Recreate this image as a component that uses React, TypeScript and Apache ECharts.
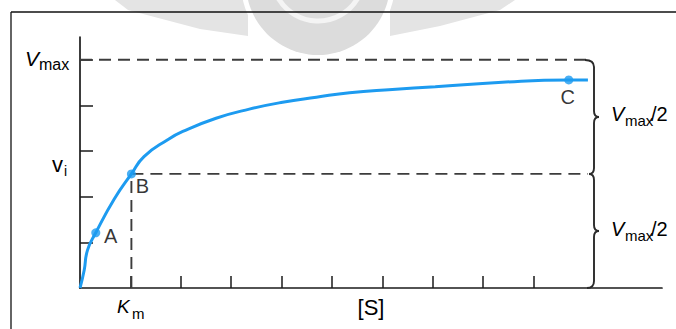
import React, { useEffect, useRef } from "react";
import * as echarts from "echarts";

// ---- data ----
const substrate = [0, 0.083, 0.149, 0.313, 0.68, 1.02, 1.27, 1.74, 2.04, 2.7, 3.36, 4.02, 4.69, 5.35, 6.2, 7.05, 8.38, 9.7, 10.08];
const velocity = [0, 0.39, 0.83, 1.21, 1.95, 2.5, 2.88, 3.25, 3.43, 3.72, 3.92, 4.07, 4.18, 4.28, 4.35, 4.41, 4.51, 4.56, 4.56];
const pointNames = ["A", "B", "C"];
const pointS = [0.313, 1.02, 9.7];
const pointV = [1.21, 2.5, 4.56];
const vmax = 5;
const halfVmax = 2.5;
const km = 1.02;
const dashEndS = 10.08;
const xTicks = [1, 2, 3, 4, 5, 6, 7, 8, 9];
const yTicks = [1, 2, 3, 4, 5];
const vmaxLabel = ["V", "max"];
const viLabel = ["v", "i"];
const kmLabel = ["K", "m"];
const sLabel = "[S]";
const halfLabel = ["V", "max", "/2"];

const FONT = '"Liberation Sans", Arial, Helvetica, sans-serif';
const BLUE = "#1d9bf0";
const DASH = "#3c3c3c";

const braceD =
  "M585 60 Q594 60 594 67 L594 111 Q594 117 599 117 Q594 117 594 123 L594 168 Q594 174 589 174 Q594 174 594 180 L594 225 Q594 231 599 231 Q594 231 594 237 L594 281 Q594 288 587 288";
echarts.graphic.registerShape("brace", echarts.graphic.extendPath(braceD, {}));

const txt = (text: string, x: number, y: number, size: number, italic = false, align = "left") => ({
  type: "text",
  x,
  y,
  z: 10,
  style: {
    text,
    fill: "#000",
    font: `${italic ? "italic " : ""}${size}px ${FONT}`,
    align,
    verticalAlign: "middle",
  },
});

const labelOffsets = [
  [15, 3],
  [11, 12],
  [-1, 17],
];

const buildOption = () => ({
  animation: false,
  backgroundColor: "#ffffff",
  grid: { left: 80, top: 37, right: 14, bottom: 41, containLabel: false },
  xAxis: {
    type: "value",
    min: 0,
    max: 11.55,
    axisLine: { lineStyle: { color: "#1a1a1a", width: 1.7 } },
    axisTick: { show: true, inside: true, length: 12, customValues: xTicks, lineStyle: { color: "#1a1a1a", width: 1.5 } },
    axisLabel: { show: false },
    splitLine: { show: false },
  },
  yAxis: {
    type: "value",
    min: 0,
    max: 5.5,
    interval: 1,
    axisLine: { show: true, lineStyle: { color: "#1a1a1a", width: 1.7 } },
    axisTick: { show: true, inside: true, length: 13, customValues: yTicks, lineStyle: { color: "#1a1a1a", width: 1.5 } },
    axisLabel: { show: false },
    splitLine: { show: false },
  },
  series: [
    {
      type: "line",
      data: [[0, vmax], [dashEndS, vmax]],
      symbol: "none",
      z: 2,
      lineStyle: { color: DASH, width: 1.9, type: [12, 7] },
    },
    {
      type: "line",
      data: [[km, halfVmax], [dashEndS, halfVmax]],
      symbol: "none",
      z: 2,
      lineStyle: { color: DASH, width: 1.9, type: [12, 7] },
    },
    {
      type: "line",
      data: [[km, 0], [km, halfVmax]],
      symbol: "none",
      z: 2,
      lineStyle: { color: DASH, width: 1.9, type: [12, 7] },
    },
    {
      type: "line",
      data: substrate.map((s, i) => [s, velocity[i]]),
      symbol: "none",
      smooth: true,
      z: 3,
      lineStyle: { color: BLUE, width: 3 },
    },
    {
      type: "scatter",
      z: 4,
      symbolSize: 9,
      itemStyle: { color: BLUE },
      data: pointNames.map((n, i) => ({
        name: n,
        value: [pointS[i], pointV[i]],
        label: { offset: labelOffsets[i] },
      })),
      label: {
        show: true,
        position: "inside",
        formatter: "{b}",
        color: "#000",
        fontSize: 20,
        fontFamily: FONT,
      },
    },
  ],
  graphic: [
    // faint watermark
    { type: "polygon", z: -5, shape: { points: [[115, 0], [248, 0], [248, 36], [200, 29], [128, 10]] }, style: { fill: "#e4e4e4" } },
    { type: "polygon", z: -5, shape: { points: [[390, 0], [515, 0], [500, 10], [440, 26], [390, 36]] }, style: { fill: "#e4e4e4" } },
    { type: "circle", z: -4, shape: { cx: 318, cy: -17, r: 77 }, style: { fill: "#ffffff" } },
    { type: "circle", z: -3, shape: { cx: 318, cy: -17, r: 72 }, style: { fill: "#dcdcdc" } },
    { type: "circle", z: -2, shape: { cx: 318, cy: -25, r: 46 }, style: { fill: "none", stroke: "#f4f4f4", lineWidth: 5 } },
    // frame
    { type: "line", z: 5, shape: { x1: 11, y1: 12, x2: 676, y2: 12 }, style: { stroke: "#111", lineWidth: 1.3 } },
    { type: "line", z: 5, shape: { x1: 11, y1: 12, x2: 11, y2: 329 }, style: { stroke: "#111", lineWidth: 1.3 } },
    // brace
    { type: "brace", z: 5, x: 0, y: 0, style: { stroke: "#2a2a2a", fill: "none", lineWidth: 1.9 } },
    // texts
    txt(vmaxLabel[0], 25, 58, 21, true),
    txt(vmaxLabel[1], 39, 64, 16),
    txt(viLabel[0], 52, 164, 22),
    txt(viLabel[1], 64, 171, 14),
    txt(kmLabel[0], 117, 306.5, 19, true),
    txt(kmLabel[1], 132, 313, 15),
    txt(sLabel, 371, 307, 22, false, "center"),
    txt(halfLabel[0], 611, 114, 20, true),
    txt(halfLabel[1], 625, 120, 15),
    txt(halfLabel[2], 651, 114, 20),
    txt(halfLabel[0], 611, 229, 20, true),
    txt(halfLabel[1], 625, 235, 15),
    txt(halfLabel[2], 651, 229, 20),
  ],
});

export default function App() {
  const ref = useRef<HTMLDivElement>(null);
  useEffect(() => {
    const chart = echarts.init(ref.current!, null, { renderer: "svg" });
    chart.setOption(buildOption() as any);
    return () => chart.dispose();
  }, []);
  return (
    <div
      ref={ref}
      style={{ position: "fixed", left: 0, top: 0, width: 676, height: 329, background: "#fff" }}
    />
  );
}
